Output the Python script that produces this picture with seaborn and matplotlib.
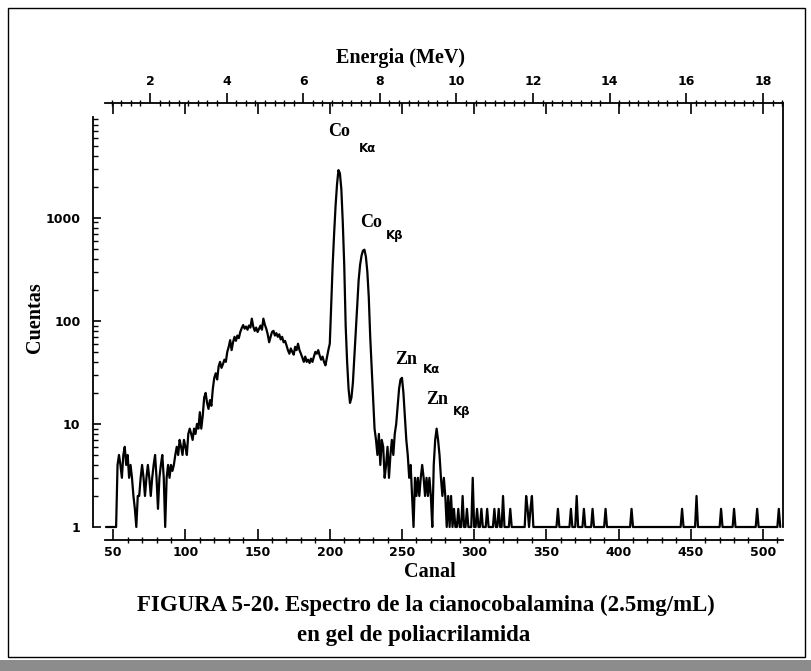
import numpy as np
import pandas as pd
import seaborn as sns
import matplotlib.pyplot as plt
from matplotlib.ticker import FixedLocator, FixedFormatter, LogLocator, NullFormatter
from matplotlib.patches import Rectangle

# ======================
# DATOS (leidos del espectro)
# ======================

first_channel = 45          # canal del primer valor de counts_low
last_channel = 512

# cuentas por canal, canales 45..300
counts_low = [
    1, 1, 1, 1, 1, 1, 1, 1, 4, 5,
    4, 3, 5, 6, 4, 5, 3, 4, 3, 2,
    1.5, 1, 2, 2, 3, 4, 3, 2, 3, 4,
    3, 2, 3, 4, 5, 3, 1.5, 3, 4, 5,
    3, 1, 3, 4, 3, 4, 3.5, 4, 5, 6,
    5, 7, 6, 5, 7, 6, 5, 8, 9, 8,
    7, 9, 8, 10, 9, 13, 9, 12, 18, 20,
    16, 14, 17, 15, 22, 28, 31, 27, 36, 40,
    35, 38, 42, 40, 50, 56, 65, 52, 62, 70,
    64, 72, 68, 78, 85, 91, 84, 88, 82, 90,
    86, 105, 88, 80, 86, 78, 84, 90, 82, 105,
    92, 84, 74, 62, 70, 78, 80, 72, 76, 70,
    74, 66, 70, 62, 64, 58, 52, 48, 54, 50,
    47, 56, 52, 60, 52, 48, 44, 40, 45, 40,
    42, 39, 43, 40, 45, 50, 48, 52, 46, 42,
    45, 40, 37, 44, 52, 60, 150, 350, 700, 1300,
    2100, 2900, 2700, 1900, 900, 350, 90, 40, 22, 16,
    18, 25, 45, 80, 140, 250, 350, 430, 480, 490,
    420, 300, 170, 70, 35, 18, 9, 7, 5, 8,
    4, 7, 6, 3, 4, 6, 3, 5, 7, 5,
    8, 10, 15, 22, 27, 28, 20, 12, 7, 5,
    3, 4, 2, 1, 3, 2, 3, 2, 3, 4,
    3, 2, 3, 2, 3, 2, 1, 4, 7, 9,
    7, 5, 3, 2, 3, 2, 1, 2, 1, 2,
    1, 1.5, 1, 1, 1.5, 1, 1, 2, 1, 1,
    1.5, 1, 1, 1, 3, 1,
]

# cola del espectro (canales 301..512): solo picos aislados, el resto queda en 1
tail_channels = [302, 305, 309, 314, 317, 320, 325, 336, 337, 339, 340, 358,
                 367, 371, 376, 382, 391, 409, 444, 454, 471, 480, 496, 511]
tail_counts = [1.5, 1.5, 1.5, 1.5, 1.5, 2, 1.5, 2, 1.5, 1.5, 2, 1.5,
               1.5, 2, 1.5, 1.5, 1.5, 1.5, 1.5, 2, 1.5, 1.5, 1.5, 1.5]

# calibracion canal -> energia (eje superior)
cal_slope = 0.03769
cal_offset = -0.8457

y_ticks = [1, 10, 100, 1000]
y_tick_labels = ["1", "10", "100", "1000"]
canal_ticks = [50, 100, 150, 200, 250, 300, 350, 400, 450, 500]
energia_ticks = [2, 4, 6, 8, 10, 12, 14, 16, 18]

peaks = [("Co", "K\u03b1"), ("Co", "K\u03b2"), ("Zn", "K\u03b1"), ("Zn", "K\u03b2")]

# ======================
# TABLA
# ======================

low = pd.Series(counts_low, index=np.arange(first_channel, first_channel + len(counts_low)), dtype=float)
tail = pd.Series(1.0, index=np.arange(low.index[-1] + 1, last_channel + 1))
tail.loc[tail_channels] = tail_counts
spectrum = pd.concat([low, tail]).rename_axis("Canal").reset_index(name="Cuentas")


def canal_a_energia(c):
    return cal_slope * np.asarray(c) + cal_offset


def energia_a_canal(e):
    return (np.asarray(e) - cal_offset) / cal_slope


# ======================
# FIGURA
# ======================

sns.set_style("white")
plt.rcParams.update({"text.color": "black", "axes.labelcolor": "black",
                     "xtick.color": "black", "ytick.color": "black",
                     "axes.edgecolor": "black"})

W, H = 811, 671
fig = plt.figure(figsize=(W / 100, H / 100), dpi=100)
ax = fig.add_axes([93 / W, 144 / H, 690 / W, 410 / H])

sns.lineplot(data=spectrum, x="Canal", y="Cuentas", ax=ax, color="black",
             linewidth=1.6, estimator=None, sort=False, clip_on=False)

ax.set_yscale("log")
ax.set_xlim(36.0, 513.9)
ax.set_ylim(1, 9500)

x_start = 44.3
ax.spines["top"].set_visible(False)
for s in ["left", "bottom", "right"]:
    ax.spines[s].set_linewidth(1.3)
ax.spines["bottom"].set_position(("outward", 13 * 0.72))
ax.spines["bottom"].set_bounds(x_start, 513.9)
ax.spines["right"].set_bounds(1, 13000)

# eje inferior (canal)
ax.xaxis.set_major_locator(FixedLocator(canal_ticks))
ax.xaxis.set_minor_locator(FixedLocator(np.arange(50, 513, 10)))
ax.tick_params(axis="x", which="major", direction="in", length=8, width=1.2,
               labelsize=9, pad=4, top=False, bottom=True)
ax.tick_params(axis="x", which="minor", direction="inout", length=5, width=1,
               top=False, bottom=True)

# eje izquierdo (cuentas)
ax.yaxis.set_major_locator(FixedLocator(y_ticks))
ax.yaxis.set_major_formatter(FixedFormatter(y_tick_labels))
ax.yaxis.set_minor_locator(LogLocator(base=10, subs=np.arange(2, 10), numticks=20))
ax.yaxis.set_minor_formatter(NullFormatter())
ax.tick_params(axis="y", which="major", direction="in", length=6, width=1.2,
               labelsize=9, pad=9, left=True, right=False)
ax.tick_params(axis="y", which="minor", direction="in", length=3.5, width=1,
               left=True, right=False)

ax.set_xlabel("")
ax.set_ylabel("")

# eje superior (energia)
top_pos = 1 + 14 / 410
sec = ax.secondary_xaxis(top_pos, functions=(canal_a_energia, energia_a_canal))
sec.xaxis.set_major_locator(FixedLocator(energia_ticks))
sec.xaxis.set_minor_locator(FixedLocator(np.arange(1.0, 18.6, 0.25)))
sec.tick_params(which="major", direction="out", length=7, width=1.2, labelsize=9, pad=4)
sec.tick_params(which="minor", direction="inout", length=5, width=1)
sec.spines["top"].set_linewidth(1.3)
sec.spines["top"].set_bounds(float(canal_a_energia(x_start)), float(canal_a_energia(513.9)))

# marcas de canal sobre la linea superior
sec2 = ax.secondary_xaxis(top_pos)
sec2.xaxis.set_major_locator(FixedLocator(canal_ticks))
sec2.tick_params(which="major", direction="in", length=8, width=1.2, labeltop=False)
sec2.xaxis.set_minor_locator(FixedLocator([]))
sec2.spines["top"].set_visible(False)

for a in [ax, sec]:
    plt.setp(a.get_xticklabels(), fontweight="bold")
plt.setp(ax.get_yticklabels(), fontweight="bold")

# ======================
# TEXTOS
# ======================

serif = "Liberation Serif"


def ftext(x, y, s, **kw):
    fig.text(x / W, 1 - y / H, s, ha="center", va="center", **kw)


ftext(400, 58, "Energia (MeV)", family=serif, fontweight="bold", fontsize=14.5)
ftext(35, 318, "Cuentas", family=serif, fontweight="bold", fontsize=14.5, rotation=90)
ftext(430, 572, "Canal", family=serif, fontweight="bold", fontsize=14.5)
ftext(426, 605, "FIGURA 5-20. Espectro de la cianocobalamina (2.5mg/mL)",
      family=serif, fontweight="bold", fontsize=16.5)
ftext(414, 636, "en gel de poliacrilamida", family=serif, fontweight="bold", fontsize=16.5)

label_pos = [((339, 131), (367, 149)), ((371, 223), (395, 236)),
             ((406, 360), (432, 370)), ((437, 400), (462, 411))]
for (el, line), (p_el, p_sub) in zip(peaks, label_pos):
    ftext(*p_el, el, family=serif, fontweight="semibold", fontsize=13)
    ftext(*p_sub, line, fontweight="bold", fontsize=8.5)

# marco exterior y sombra del escaneo
fig.patches.append(Rectangle((8 / W, 1 - 657 / H), 797 / W, 649 / H, transform=fig.transFigure,
                             fill=False, ec="black", lw=1.0))
fig.patches.append(Rectangle((0, 0), 1, 11 / H, transform=fig.transFigure,
                             fc="#8c8c8c", ec="none"))

fig.savefig("out.png", dpi=100)
